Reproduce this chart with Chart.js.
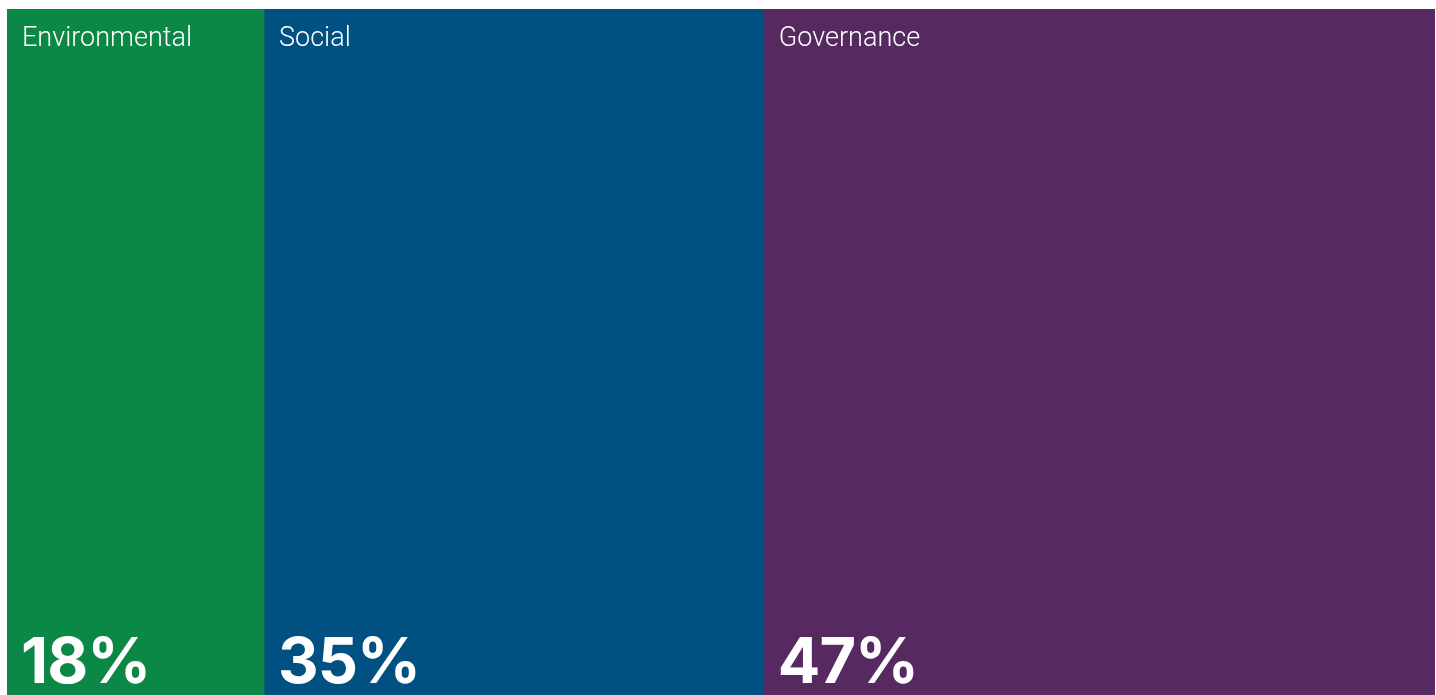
<!DOCTYPE html>
<html lang="en">
<head>
    <meta charset="UTF-8">
    <title>ESG split</title>
    <script src="https://cdn.jsdelivr.net/npm/chart.js"></script>
    <style>
        html, body {
            margin: 0;
            padding: 0;
            background: #ffffff;
            overflow: hidden;
        }

        #chart-container {
            width: 1436px;
            height: 695px;
        }
    </style>
</head>
<body>
    <div id="chart-container">
        <canvas id="esgChart" width="1436" height="695"></canvas>
    </div>

    <script>
        // categories and shares (%)
        const pillars = ['Environmental', 'Social', 'Governance'];
        const shares = [18, 35, 47];
        const pillarColors = ['#0c8846', '#005182', '#562a60'];

        // draws the pillar name at the top and the share at the bottom of each block
        const blockLabels = {
            id: 'blockLabels',
            afterDatasetsDraw(chart) {
                const ctx = chart.ctx;
                const area = chart.chartArea;
                ctx.save();
                ctx.fillStyle = '#ffffff';
                ctx.textAlign = 'left';
                ctx.textBaseline = 'alphabetic';
                chart.data.datasets.forEach((ds, i) => {
                    const bar = chart.getDatasetMeta(i).data[0];
                    const left = Math.min(bar.x, bar.base);

                    ctx.letterSpacing = '0px';
                    ctx.font = '300 27px Roboto, "Liberation Sans", sans-serif';
                    ctx.fillText(ds.label, left + 15, area.top + 37);

                    ctx.letterSpacing = '-1px';
                    ctx.font = '700 63px Inter, "Liberation Sans", Arial, sans-serif';
                    ctx.fillText(ds.data[0] + '%', left + 14, 683);
                });
                ctx.restore();
            }
        };

        const ctx = document.getElementById('esgChart').getContext('2d');
        const esgChart = new Chart(ctx, {
            type: 'bar',
            data: {
                labels: ['ESG'],
                datasets: pillars.map((name, i) => ({
                    label: name,
                    data: [shares[i]],
                    backgroundColor: pillarColors[i],
                    borderWidth: 0,
                    barPercentage: 1,
                    categoryPercentage: 1
                }))
            },
            options: {
                indexAxis: 'y',
                responsive: false,
                animation: false,
                layout: {
                    padding: { left: 7, right: 1, top: 9, bottom: 0 }
                },
                plugins: {
                    legend: { display: false },
                    tooltip: { enabled: false }
                },
                scales: {
                    x: { stacked: true, min: 0, max: 100, display: false },
                    y: { stacked: true, display: false }
                }
            },
            plugins: [blockLabels]
        });
    </script>
</body>
</html>
